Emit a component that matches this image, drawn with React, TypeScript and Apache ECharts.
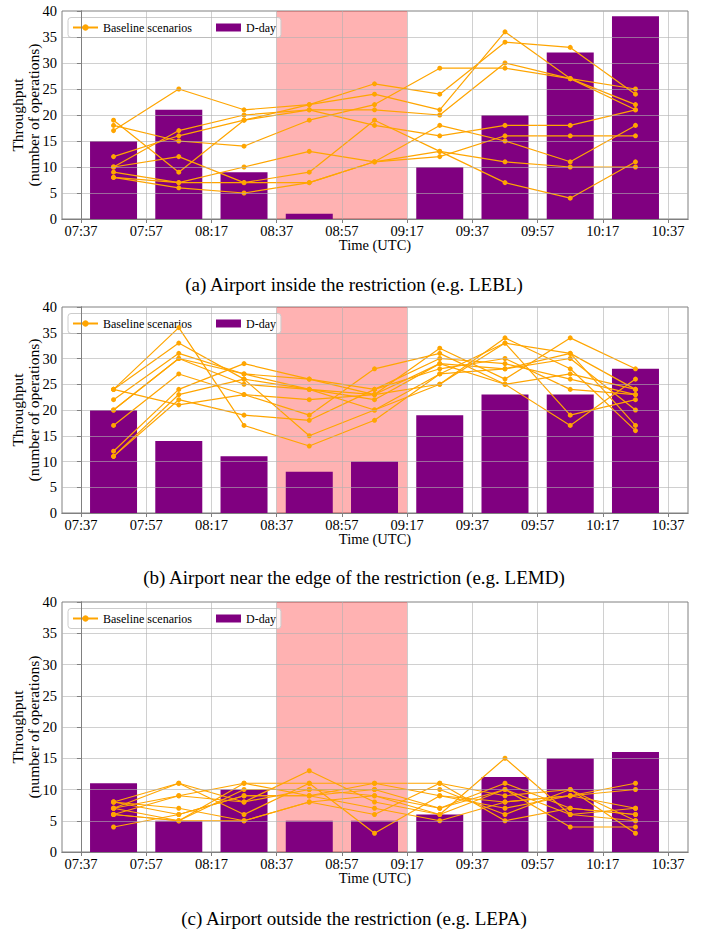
import { useEffect, useRef } from 'react';
import * as echarts from 'echarts';

// ---------- data ----------
const tickLabels = ['07:37', '07:57', '08:17', '08:37', '08:57', '09:17', '09:37', '09:57', '10:17', '10:37'];
const slotTimes = ['07:47', '08:07', '08:27', '08:47', '09:07', '09:27', '09:47', '10:07', '10:27'];
const restrictionStart = '08:37';
const restrictionEnd = '09:17';
const yTicks = [0, 5, 10, 15, 20, 25, 30, 35, 40];

const ddayA = [15, 21, 9, 1, 0, 10, 20, 32, 39];
const ddayB = [20, 14, 11, 8, 10, 19, 23, 23, 28];
const ddayC = [11, 5, 10, 5, 5, 6, 12, 15, 16];

const baselineA = [
  [17, 25, 21, 22, 26, 24, 34, 33, 24],
  [19, 9, 19, 22, 24, 21, 36, 27, 22],
  [18, 15, 14, 19, 22, 29, 29, 27, 25],
  [12, 16, 19, 21, 21, 20, 30, 27, 21],
  [10, 17, 20, 21, 18, 16, 18, 18, 21],
  [10, 12, 7, 9, 19, 13, 7, 4, 11],
  [9, 7, 10, 13, 11, 12, 16, 16, 16],
  [8, 6, 5, 7, 11, 18, 15, 11, 18],
  [8, 7, 7, 7, 11, 13, 11, 10, 10],
];

const baselineB = [
  [24, 36, 17, 13, 18, 27, 33, 31, 17],
  [24, 33, 26, 15, 20, 25, 34, 28, 16],
  [22, 31, 27, 26, 23, 32, 26, 34, 28],
  [20, 30, 25, 24, 22, 29, 28, 30, 20],
  [17, 27, 23, 19, 28, 31, 25, 27, 24],
  [12, 24, 29, 26, 24, 30, 29, 26, 23],
  [11, 22, 19, 18, 24, 28, 30, 24, 23],
  [11, 23, 26, 24, 23, 25, 33, 19, 22],
  [24, 21, 23, 22, 23, 29, 25, 17, 26],
  [20, 30, 27, 24, 20, 27, 28, 31, 24],
];

const baselineC = [
  [8, 11, 8, 13, 8, 6, 15, 6, 7],
  [7, 9, 11, 11, 11, 11, 9, 10, 5],
  [6, 5, 10, 10, 10, 7, 11, 7, 6],
  [4, 6, 9, 9, 7, 5, 8, 9, 11],
  [8, 7, 5, 8, 9, 6, 10, 4, 4],
  [7, 11, 6, 11, 3, 9, 7, 9, 10],
  [6, 5, 11, 9, 10, 10, 6, 10, 3],
  [7, 5, 5, 8, 6, 11, 5, 7, 6],
  [6, 9, 8, 10, 9, 7, 10, 6, 5],
  [8, 6, 9, 9, 11, 9, 8, 9, 7],
];

const captions = [
  '(a) Airport inside the restriction (e.g. LEBL)',
  '(b) Airport near the edge of the restriction (e.g. LEMD)',
  '(c) Airport outside the restriction (e.g. LEPA)',
];

const panelsData = [
  { dday: ddayA, baseline: baselineA },
  { dday: ddayB, baseline: baselineB },
  { dday: ddayC, baseline: baselineC },
];

// ---------- layout / style ----------
const W = 708;
const H = 931;
const GRID_LEFT = 62;
const GRID_W = 626;
const gridLayout = [
  { top: 11, height: 208 },
  { top: 307, height: 206 },
  { top: 602, height: 250 },
];
const captionY = [284, 577, 918];
const X_MIN = -5.8;
const X_MAX = 186.1;
const FONT = "'Liberation Serif', 'Times New Roman', serif";
const FRAME = '#808080';
const GRIDLINE = 'rgba(176,176,176,0.6)';

const BASE = 7 * 60 + 37;
function toMin(t: string): number {
  const [h, m] = t.split(':').map(Number);
  return h * 60 + m - BASE;
}
const tickVals = tickLabels.map(toMin);
function fmt(v: number): string {
  const i = tickVals.findIndex((t) => Math.abs(t - v) < 1e-6);
  return i >= 0 ? tickLabels[i] : '';
}

function buildOption() {
  const xAxis: any[] = [];
  const yAxis: any[] = [];
  const series: any[] = [];
  const grid: any[] = [];
  const legend: any[] = [];

  gridLayout.forEach((g, i) => {
    grid.push({
      left: GRID_LEFT, top: g.top, width: GRID_W, height: g.height,
      containLabel: false, outerBoundsMode: 'none',
      show: true, backgroundColor: '#fff', borderColor: FRAME, borderWidth: 1,
    });
    xAxis.push({
      type: 'value', gridIndex: i, min: X_MIN, max: X_MAX, position: 'bottom', z: 10,
      axisLine: { show: true, lineStyle: { color: FRAME, width: 1 } },
      axisTick: { show: true, customValues: tickVals, length: 4, lineStyle: { color: FRAME } },
      axisLabel: { show: true, customValues: tickVals, formatter: fmt, fontSize: 14.5, fontFamily: FONT, color: '#000', margin: 4 },
      splitLine: { show: false },
      name: 'Time (UTC)', nameLocation: 'middle', nameGap: 18, nameMoveOverlap: false,
      nameTextStyle: { fontSize: 14.5, fontFamily: FONT, color: '#000' },
    });
    xAxis.push({
      type: 'value', gridIndex: i, min: X_MIN, max: X_MAX, position: 'top', z: 10,
      axisLine: { show: true, lineStyle: { color: FRAME, width: 1 } },
      axisTick: { show: false }, axisLabel: { show: false }, splitLine: { show: false },
    });
    yAxis.push({
      type: 'value', gridIndex: i, min: yTicks[0], max: yTicks[yTicks.length - 1], interval: yTicks[1] - yTicks[0], position: 'left', z: 10,
      axisLine: { show: true, lineStyle: { color: FRAME, width: 1 } },
      axisTick: { show: true, length: 4, lineStyle: { color: FRAME } },
      axisLabel: { show: true, fontSize: 14.5, fontFamily: FONT, color: '#000', margin: 5 },
      splitLine: { show: false },
      name: 'Throughput\n(number of operations)', nameLocation: 'middle', nameGap: 21, nameMoveOverlap: false,
      nameTextStyle: { fontSize: 15.5, lineHeight: 16, fontFamily: FONT, color: '#000', align: 'center' },
    });
    yAxis.push({
      type: 'value', gridIndex: i, min: yTicks[0], max: yTicks[yTicks.length - 1], position: 'right', z: 10,
      axisLine: { show: true, lineStyle: { color: FRAME, width: 1 } },
      axisTick: { show: false }, axisLabel: { show: false }, splitLine: { show: false },
    });

    const xi = i * 2;
    const yi = i * 2;
    const pd = panelsData[i];

    // restriction shading
    series.push({
      type: 'line', xAxisIndex: xi, yAxisIndex: yi, data: [], z: 1, silent: true,
      markArea: {
        silent: true,
        itemStyle: { color: 'rgba(255,0,0,0.3)' },
        data: [[{ xAxis: toMin(restrictionStart) }, { xAxis: toMin(restrictionEnd) }]],
      },
    });
    // D-day bars
    series.push({
      name: 'D-day', type: 'bar', xAxisIndex: xi, yAxisIndex: yi, z: 2,
      barWidth: 47,
      itemStyle: { color: '#800080' },
      data: slotTimes.map((t, j) => [toMin(t), pd.dday[j]]),
    });
    // gridlines on top of bars
    series.push({
      type: 'line', xAxisIndex: xi, yAxisIndex: yi, data: [], z: 3, silent: true,
      markLine: {
        silent: true, symbol: ['none', 'none'], label: { show: false },
        lineStyle: { color: GRIDLINE, width: 1, type: 'solid' },
        emphasis: { disabled: true },
        data: [
          ...yTicks.slice(1, -1).map((v) => ({ yAxis: v })),
          ...tickVals.map((v) => ({ xAxis: v })),
        ],
      },
    });
    // baseline scenarios
    pd.baseline.forEach((line) => {
      series.push({
        name: 'Baseline scenarios', type: 'line', xAxisIndex: xi, yAxisIndex: yi, z: 4,
        symbol: 'circle', symbolSize: 5,
        itemStyle: { color: '#FFA500' },
        lineStyle: { color: '#FFA500', width: 1.2 },
        data: slotTimes.map((t, j) => [toMin(t), line[j]]),
      });
    });

    legend.push({
      left: 68, top: g.top + 6.5,
      orient: 'horizontal',
      padding: [4, 5, 4, 4],
      itemGap: 24, itemWidth: 25, itemHeight: 8,
      backgroundColor: 'rgba(255,255,255,0.8)', borderColor: '#cccccc', borderWidth: 1, borderRadius: 3,
      textStyle: { fontSize: 12, fontFamily: FONT, color: '#000' },
      data: [{ name: 'Baseline scenarios' }, { name: 'D-day', icon: 'rect' }],
      selectedMode: false,
    });
  });

  return {
    animation: false,
    backgroundColor: '#fff',
    textStyle: { fontFamily: FONT },
    grid, xAxis, yAxis, series, legend,
    graphic: captions.map((c, i) => ({
      type: 'text', x: 354, y: captionY[i],
      style: { text: c, fontSize: 19, fontFamily: FONT, fill: '#000', align: 'center', verticalAlign: 'middle' },
    })),
  };
}

export default function App() {
  const ref = useRef<HTMLDivElement>(null);
  useEffect(() => {
    document.body.style.margin = '0';
    if (!ref.current) return;
    const chart = echarts.init(ref.current, undefined, { renderer: 'svg' });
    chart.setOption(buildOption() as any);
    return () => chart.dispose();
  }, []);
  return <div ref={ref} style={{ width: W, height: H }} />;
}
